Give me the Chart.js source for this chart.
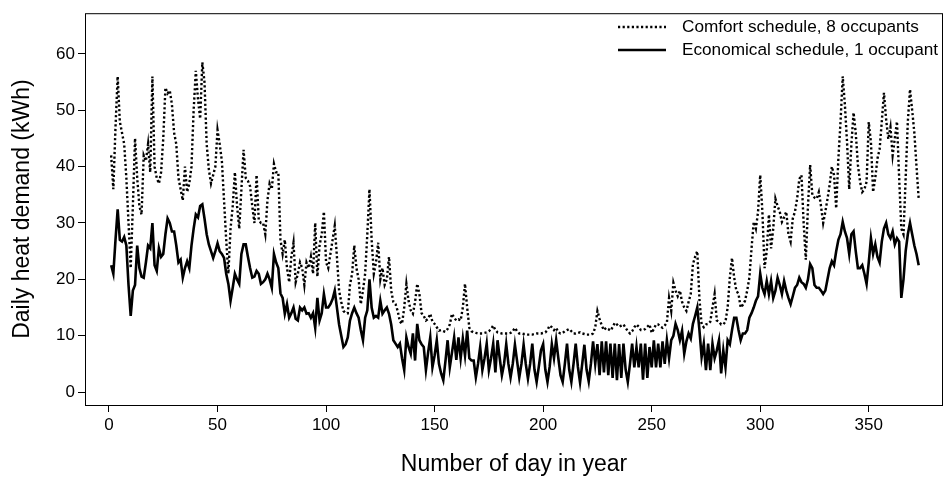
<!DOCTYPE html>
<html><head><meta charset="utf-8">
<script src="https://cdn.jsdelivr.net/npm/chart.js@4.4.1/dist/chart.umd.min.js"></script>
<style>html,body{margin:0;padding:0;background:#fff;}#wrap{width:944px;height:479px;}</style>
</head><body><div id="wrap"><canvas id="c" width="944" height="479"></canvas></div>
<script>
// Daily heat demand (kWh), comfort schedule, 8 occupants (dotted)
const comfort = [
42,36,47,56,48,46,44,38,30,22,
33,45,38,33,31.5,42,41,44,39,56,
40,38,37,39,45,54,53,53.5,51,46,
44,38,36,34,40,35.5,37,40,50,57,
52,48.5,58.5,55,44,39.5,37,38.5,40,46.5,
44,41,34,27,21,29,33,39,33,29,
36,43,38,37.5,36.5,33,30,38.5,30.5,30,
30,28,34,37,36,40.5,39,39,27,24.5,
27,22,19.5,24,26.5,19.5,21,23,22,19,
23,22,24,21,30,20.5,26,28,32,23,
22,24.5,27,29.5,24,18,16,14.4,14,14,
19,21,26,22,20,15.6,18,21,28,36,
27,21,23,26.5,20,22,19,20,24,18,
16,15.6,14.4,12.5,12.1,15,19.2,16.2,14.5,13.9,
16,19.2,17.4,14,13.5,12.7,13,13.9,12.5,12.1,
11.5,10.9,11,10.8,10.7,11.2,12,13.9,13.2,12.7,
12.9,12.7,15,19.2,15,11.4,10.8,10.6,10.5,10.4,
10.4,10.4,10.5,10.6,10.8,11.2,11.8,11,10.6,10.5,
10.4,10.4,10.4,10.4,10.5,10.8,11.4,10.8,10.4,10.4,
10.3,10.3,10.2,10.2,10.2,10.3,10.4,10.4,10.4,10.5,
10.6,11,11.8,11.5,11,11.4,10.6,10.4,10.5,10.8,
11,11.2,10.8,10.4,10.4,10.5,10.6,10.4,10.3,10.2,
10.2,10.2,10.4,11.5,14.4,13,11.8,11,11.4,11.2,
10.9,11.5,12.3,12,11.6,11.8,12,11.4,10.8,10.4,
10.8,11.5,12,11.6,11,11,11.2,11.6,12,10.5,
11.2,12,12,11.6,11.4,11.8,12.3,16.7,14.4,19.4,
18,17,18,16,15,14.4,16,17.4,22.7,24,
25,16.5,12,11.5,12,12.1,12.5,15,17.4,12.7,
12.5,12,12,12.5,15,20.3,23.8,20.3,18,17.4,
15,15.5,16.2,18,20.3,25.5,30.2,29,32,38.5,
32,22,25,31.5,25.5,29,34.3,33,32,30.2,
31,32,28,26.7,30.8,32,34.3,37.8,38.5,30,
23.5,33,40.3,35,34.5,34.3,35.5,33,30,32,
34.3,36.8,40,38.5,32.6,41.4,48,56,51,44.3,
36,44,49.6,46,40.3,37.3,35.5,36,37.3,47.9,
44.3,35.5,38,41.4,43.1,48,53.1,48.4,44.9,47,
42,45,48,38,29,28,38,48,53.7,50,46,40,34.3
];
// Daily heat demand (kWh), economical schedule, 1 occupant (solid)
const economical = [
22.5,21,27,32.4,27,26.7,27.5,26,19,13.5,
18,19,26,22,20.5,20.3,23,26,25.5,30,
22.5,21.5,25.5,24,24.5,28,30.8,30,28.5,28.5,
26,23,23.5,20.3,22,23.2,22,26,29,31.5,
31,33,33.3,30.8,28,26.2,25,23.8,25,26.4,
25,24.5,23.8,21,19.2,16.2,18.5,21,20,19.2,
24.5,26.2,26.2,24,22,20.3,20.5,21.5,21,19.2,
19.5,20,21,20,18.5,24.5,23,22,17.5,16.7,
13.9,15.6,13.2,14,15,13,12.7,15,14.5,15,
13.9,14,13.2,14,11.4,16.7,12.7,14,17.4,15,
15,15.6,16.5,18,15,12,10,8,8.5,9.7,
12.7,14,15,14,13.2,11,9.2,13.2,14.5,20,
15,13.2,13.5,13.2,16.2,13.9,14.5,15,13.9,12,
9.2,8.6,8,8.6,6,3.9,9.7,8,6.8,10.4,
5.6,12.1,9.2,8.5,8,3.9,7,9.7,4.4,6.5,
9.2,5,3.3,2.1,5.5,9.2,4.4,7,9.7,5.7,
9.7,6,9.5,6.5,10.9,6,5.6,5.6,2.6,5,
8,3.9,6,8.6,3.9,6,8.6,3.5,9.2,6,
3,5,8.5,5,2.6,5,8.4,5.5,2.6,5,
8.4,5,2.4,5,8.6,4,1.8,4.5,7.4,8.5,
4,1.8,4.5,8.5,6,9.2,6,3,1.8,5,
8.6,4,1.8,5,8.6,4.5,1.7,5,8.4,4,
1.9,5,9,5,8.5,3,9,3.5,9,3,
8.6,2.5,8.6,2.1,8.5,2.5,8.6,4,1.8,5,
8.6,4.4,8,4.4,8.6,2.2,8.6,2.5,8,4.4,
9.2,4.4,8.6,4.4,9,5,9.2,6,9.2,10,
12.1,11,9.2,10.9,6.8,9,10.4,9.5,12.1,13.5,
15,11,6.2,8.6,3.9,8.6,3.9,8.6,6,7.4,
9.2,3.3,7.4,4.4,9.2,8.5,11,13.2,13.2,11,
9.2,10.4,10.4,11,13.2,14,15,16.2,17,21,
18.5,17.4,19.7,17.4,19.7,16.7,18,20.3,19,17.4,
19.7,18,16.7,15.6,17,18.5,19,20.3,19.5,19.2,
18.5,20,22.7,22,19,18.5,18.5,18,17.4,18,
20,22,23.2,22.5,25,27,28,30.2,28.5,27.3,
24.5,28,28.5,25,22,22,22.5,21,19.2,23,
27.3,24.5,26.2,24,23,26.7,29,30,28,27.3,
28.5,26.2,27.3,26.7,16.7,20,25,28,30,28,26,24.5,22.5
];
const days = comfort.map((_, i) => i + 1);
const xTicks = [0, 50, 100, 150, 200, 250, 300, 350];
const yTicks = [0, 10, 20, 30, 40, 50, 60];
const seriesNames = ['Comfort schedule, 8 occupants', 'Economical schedule, 1 occupant'];
const xTitle = 'Number of day in year';
const yTitle = 'Daily heat demand (kWh)';

const FONT = '"Liberation Sans", Arial, Helvetica, sans-serif';
const DASH = [2.2, 2.4];

const framePlugin = {
  id: 'frame',
  afterDraw(chart) {
    const {ctx, chartArea: a} = chart;
    ctx.save();
    ctx.strokeStyle = '#000';
    ctx.lineWidth = 1;
    ctx.strokeRect(a.left + 0.5, a.top + 0.5, a.right - a.left - 1, a.bottom - a.top);
    const items = [
      {label: seriesNames[0], dash: DASH, y: 27, w: 2.4},
      {label: seriesNames[1], dash: [], y: 50, w: 2.6}
    ];
    ctx.font = '17.2px ' + FONT;
    ctx.fillStyle = '#000';
    ctx.textBaseline = 'middle';
    ctx.textAlign = 'left';
    items.forEach(it => {
      ctx.beginPath();
      ctx.setLineDash(it.dash);
      ctx.lineWidth = it.w;
      ctx.moveTo(618, it.y);
      ctx.lineTo(666, it.y);
      ctx.stroke();
      ctx.setLineDash([]);
      ctx.fillText(it.label, 682, it.y);
    });
    ctx.restore();
  }
};

new Chart(document.getElementById('c'), {
  type: 'line',
  data: {
    datasets: [
      {label: seriesNames[0], data: days.map((d, i) => ({x: d, y: comfort[i]})),
       borderColor: '#000', borderWidth: 2.4, borderDash: DASH, pointRadius: 0, fill: false},
      {label: seriesNames[1], data: days.map((d, i) => ({x: d, y: economical[i]})),
       borderColor: '#000', borderWidth: 2.6, pointRadius: 0, fill: false}
    ]
  },
  options: {
    responsive: false, animation: false, devicePixelRatio: 1,
    layout: {padding: {left: 0, right: 1, top: 10, bottom: 0}},
    plugins: {legend: {display: false}, tooltip: {enabled: false}},
    elements: {line: {tension: 0}},
    scales: {
      x: {
        type: 'linear', min: -11.05, max: 384.2,
        afterBuildTicks: s => { s.ticks = xTicks.map(v => ({value: v})); },
        afterFit: s => { s.height = 74; },
        border: {display: false},
        grid: {drawOnChartArea: false, drawTicks: true, tickLength: 7, color: '#000', lineWidth: 1},
        ticks: {color: '#000', font: {family: FONT, size: 17}, padding: 3, maxRotation: 0, autoSkip: false},
        title: {display: true, text: xTitle, color: '#000', font: {family: FONT, size: 23}, padding: {top: 0, bottom: 1}}
      },
      y: {
        type: 'linear', min: -2.29, max: 67.22,
        afterBuildTicks: s => { s.ticks = yTicks.map(v => ({value: v})); },
        afterFit: s => { s.width = 85; },
        border: {display: false},
        grid: {drawOnChartArea: false, drawTicks: true, tickLength: 7, color: '#000', lineWidth: 1},
        ticks: {color: '#000', font: {family: FONT, size: 17}, padding: 3, autoSkip: false},
        title: {display: true, text: yTitle, color: '#000', font: {family: FONT, size: 23}, padding: {top: 9, bottom: 0}}
      }
    }
  },
  plugins: [framePlugin]
});
</script>
</body></html>
